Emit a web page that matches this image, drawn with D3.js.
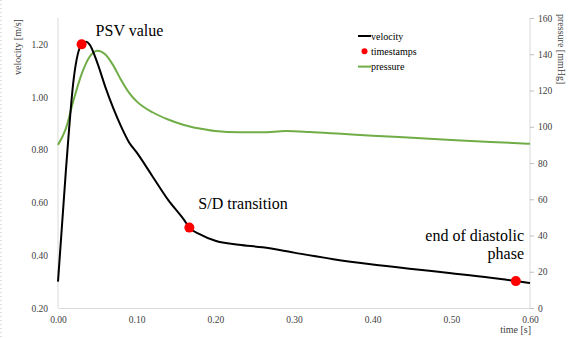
<!DOCTYPE html>
<html>
<head>
<meta charset="utf-8">
<script src="https://cdn.jsdelivr.net/npm/d3@7"></script>
<style>
  html, body { margin: 0; padding: 0; background: #fff; }
  svg, svg text { font-family: "Liberation Serif", "DejaVu Serif", serif; }
  svg { display: block; }
</style>
</head>
<body>
<svg id="chart" width="568" height="338"></svg>
<script>
// Time samples [s]
const velocityTime = [0.00, 0.01, 0.02, 0.03, 0.036, 0.04, 0.05, 0.06, 0.07, 0.08, 0.09, 0.10, 0.12, 0.14, 0.16, 0.167, 0.18, 0.20, 0.23, 0.26, 0.30, 0.35, 0.40, 0.45, 0.50, 0.55, 0.582, 0.60];
// Velocity [m/s]
const velocityValues = [0.30, 0.72, 1.07, 1.20, 1.21, 1.20, 1.13, 1.04, 0.96, 0.89, 0.83, 0.79, 0.70, 0.61, 0.535, 0.505, 0.48, 0.455, 0.44, 0.43, 0.41, 0.385, 0.365, 0.348, 0.332, 0.315, 0.302, 0.295];

const pressureTime = [0.00, 0.01, 0.02, 0.03, 0.04, 0.05, 0.06, 0.07, 0.08, 0.09, 0.10, 0.12, 0.14, 0.16, 0.18, 0.20, 0.23, 0.26, 0.29, 0.32, 0.36, 0.40, 0.45, 0.50, 0.55, 0.60];
// Pressure [mmHg]
const pressureValues = [90, 99, 115, 129, 138.5, 142, 140, 134, 126, 119, 114, 108, 104, 101, 99, 97.6, 96.9, 96.9, 97.6, 97.1, 96.1, 95.1, 93.9, 92.7, 91.6, 90.6];

// Highlighted timestamps
const markerTime = [0.03, 0.167, 0.582];
const markerValues = [1.20, 0.505, 0.302];
const markerLabels = [["PSV value"], ["S/D transition"], ["end of diastolic", "phase"]];

const xTicks = [0, 0.1, 0.2, 0.3, 0.4, 0.5, 0.6];
const vTicks = [0.2, 0.4, 0.6, 0.8, 1.0, 1.2];
const pTicks = [0, 20, 40, 60, 80, 100, 120, 140, 160];

const serif = "'Liberation Serif', 'DejaVu Serif', serif";
const svg = d3.select("#chart");
const plotLeft = 58, plotRight = 530, plotTop = 18, plotBottom = 308;

const x = d3.scaleLinear().domain([0, 0.6]).range([plotLeft, plotRight]);
const yV = d3.scaleLinear().domain([0.2, 1.3]).range([plotBottom, plotTop]);
const yP = d3.scaleLinear().domain([0, 160]).range([plotBottom, plotTop]);

const axisColor = "#d9d9d9";
const tickText = "#404040";

// faint dotted border at the left edge
svg.append("line").attr("x1", 1).attr("x2", 1).attr("y1", 0).attr("y2", 338)
  .attr("stroke", "#bbb").attr("stroke-dasharray", "1,3");

// Bottom axis
const gx = svg.append("g").attr("transform", `translate(0,${plotBottom})`)
  .call(d3.axisBottom(x).tickValues(xTicks).tickFormat(d3.format(".2f")).tickSize(0).tickPadding(8));
// Left axis
const gl = svg.append("g").attr("transform", `translate(${plotLeft},0)`)
  .call(d3.axisLeft(yV).tickValues(vTicks).tickFormat(d3.format(".2f")).tickSize(0).tickPadding(10));
// Right axis
const gr = svg.append("g").attr("transform", `translate(${plotRight},0)`)
  .call(d3.axisRight(yP).tickValues(pTicks).tickSize(4).tickPadding(4));

[gx, gl, gr].forEach(g => {
  g.attr("font-family", serif).attr("font-size", 9.5);
  g.select(".domain").attr("stroke", axisColor).attr("stroke-width", 1);
  g.selectAll(".tick line").attr("stroke", "#bfbfbf");
  g.selectAll(".tick text").attr("fill", tickText);
});
gl.select(".domain").attr("d", `M0,${plotTop}V${plotBottom}`);
gr.select(".domain").attr("d", `M0,${plotTop}V${plotBottom}`);

// Axis titles
svg.append("text").attr("transform", `translate(21,47) rotate(-90)`)
  .attr("text-anchor", "middle").attr("font-size", 10).attr("fill", tickText)
  .attr("font-family", serif).text("velocity [m/s]");
svg.append("text").attr("transform", `translate(558,${plotTop - 4}) rotate(90)`)
  .attr("text-anchor", "start").attr("font-size", 10).attr("fill", tickText)
  .attr("font-family", serif).text("pressure [mmHg]");
svg.append("text").attr("x", 531).attr("y", 333)
  .attr("text-anchor", "end").attr("font-size", 10).attr("fill", tickText)
  .attr("font-family", serif).text("time [s]");

// Curves
const pressureLine = d3.line().x((d, i) => x(pressureTime[i])).y(d => yP(d)).curve(d3.curveMonotoneX);
const velocityLine = d3.line().x((d, i) => x(velocityTime[i])).y(d => yV(d)).curve(d3.curveMonotoneX);

svg.append("path").attr("d", pressureLine(pressureValues))
  .attr("fill", "none").attr("stroke", "#70ad47").attr("stroke-width", 2);
svg.append("path").attr("d", velocityLine(velocityValues))
  .attr("fill", "none").attr("stroke", "#000").attr("stroke-width", 2);

// Timestamp markers
svg.selectAll("circle.ts").data(markerValues).join("circle")
  .attr("class", "ts")
  .attr("cx", (d, i) => x(markerTime[i])).attr("cy", d => yV(d))
  .attr("r", 5).attr("fill", "#ff0000");

// Annotations
const ann = svg.append("g").attr("font-size", 16).attr("fill", "#000").attr("font-family", serif);
ann.append("text").attr("x", x(markerTime[0]) + 14).attr("y", yV(markerValues[0]) - 8).text(markerLabels[0][0]);
ann.append("text").attr("x", x(markerTime[1]) + 9).attr("y", yV(markerValues[1]) - 19).text(markerLabels[1][0]);
markerLabels[2].forEach((s, k) => {
  ann.append("text").attr("x", 524).attr("y", 241 + k * 18).attr("text-anchor", "end").text(s);
});

// Legend
const legend = svg.append("g").attr("transform", "translate(358,36)").attr("font-size", 10)
  .attr("fill", "#000").attr("font-family", serif);
const legendItems = [
  { name: "velocity", type: "line", color: "#000" },
  { name: "timestamps", type: "dot", color: "#ff0000" },
  { name: "pressure", type: "line", color: "#70ad47" }
];
legendItems.forEach((it, i) => {
  const g = legend.append("g").attr("transform", `translate(0,${i * 15.3})`);
  if (it.type === "line") {
    g.append("line").attr("x1", 0).attr("x2", 13).attr("y1", 0).attr("y2", 0)
      .attr("stroke", it.color).attr("stroke-width", 2);
  } else {
    g.append("circle").attr("cx", 6.5).attr("cy", 0).attr("r", 3).attr("fill", it.color);
  }
  g.append("text").attr("x", 13).attr("y", 3.5).text(it.name);
});
</script>
</body>
</html>
